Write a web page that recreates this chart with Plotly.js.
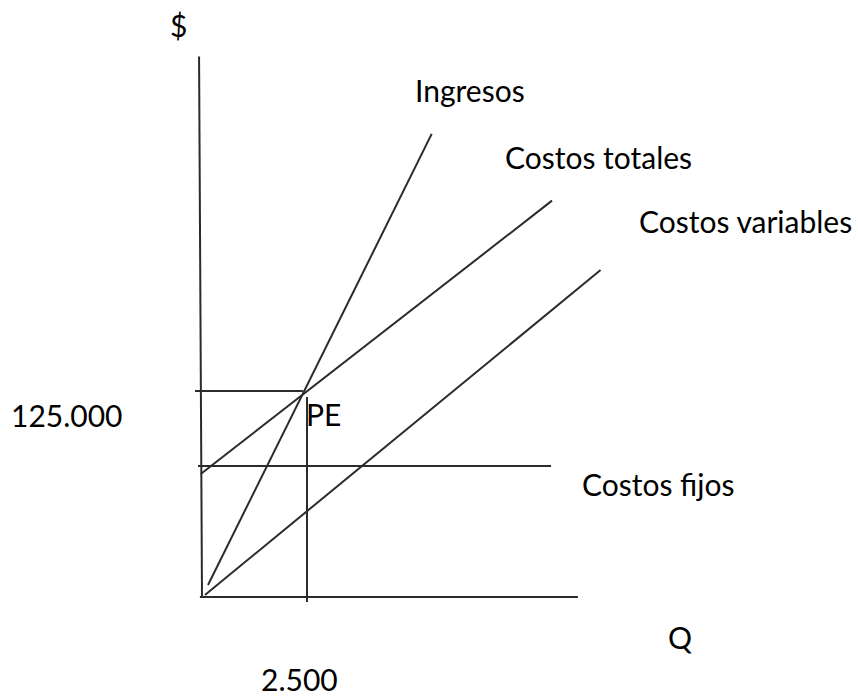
<!DOCTYPE html>
<html>
<head>
<meta charset="utf-8">
<script src="https://cdn.plot.ly/plotly-3.0.1.min.js"></script>
<style>html,body{margin:0;padding:0;background:#fff;}#chart{width:858px;height:697px;}</style>
</head>
<body>
<div id="chart"></div>
<script>
// Data (Q = quantity, $ = amount)
const ejeY_Q = [-70, 0];
const ejeY_S = [328000, 0];
const ejeX_Q = [-50, 8950];
const ejeX_S = [0, 0];
const ingresos_Q = [143, 5469];
const ingresos_S = [7300, 281000];
const costosTotales_Q = [-30, 8333];
const costosTotales_S = [74600, 240500];
const costosVariables_Q = [70, 9490];
const costosVariables_S = [1200, 198400];
const costosFijos_Q = [-95, 8310];
const costosFijos_S = [79500, 79500];
const peHoriz_Q = [-167, 2400];
const peHoriz_S = [125000, 125000];
const peVert_Q = [2500, 2500];
const peVert_S = [121400, -3000];

const labels = ['$', 'Ingresos', 'Costos totales', 'Costos variables', 'Costos fijos', 'Q', '125.000', 'PE', '2.500'];

// layout placement of labels (pixel centres in the 858x697 frame)
const W = 858, H = 697;
const labelPos = [[178, 25], [470, 90], [598, 157], [745, 221], [658, 484], [680, 637], [66, 415], [323, 414], [299, 679]];

const lineStyle = {color: '#2b2b2b', width: 2};
function seg(x, y) {
  return {x: x, y: y, type: 'scatter', mode: 'lines', line: lineStyle, hoverinfo: 'skip', showlegend: false};
}
const traces = [
  seg(ejeY_Q, ejeY_S), seg(ejeX_Q, ejeX_S),
  seg(ingresos_Q, ingresos_S), seg(costosTotales_Q, costosTotales_S),
  seg(costosVariables_Q, costosVariables_S), seg(costosFijos_Q, costosFijos_S),
  seg(peHoriz_Q, peHoriz_S), seg(peVert_Q, peVert_S)
];

// pixel scale: origin at (202,597); Q=2500 at x=307; $=125000 at y=391
const ox = 202, oy = 597;
const kx = (307 - 202) / 2500, ky = (597 - 391) / 125000;

const annotations = labels.map((t, i) => ({
  text: t, xref: 'paper', yref: 'paper',
  x: labelPos[i][0] / W, y: 1 - labelPos[i][1] / H,
  xanchor: 'center', yanchor: 'middle', showarrow: false, borderpad: 0,
  font: {family: 'Lato, Carlito, "Open Sans", sans-serif', size: 30, color: '#000'}
}));

const layout = {
  width: W, height: H,
  margin: {l: 0, r: 0, t: 0, b: 0},
  paper_bgcolor: '#fff', plot_bgcolor: '#fff',
  xaxis: {range: [-ox / kx, (W - ox) / kx], visible: false, fixedrange: true},
  yaxis: {range: [-(H - oy) / ky, oy / ky], visible: false, fixedrange: true},
  annotations: annotations,
  showlegend: false
};
Plotly.newPlot('chart', traces, layout, {displayModeBar: false, staticPlot: true});
</script>
</body>
</html>
